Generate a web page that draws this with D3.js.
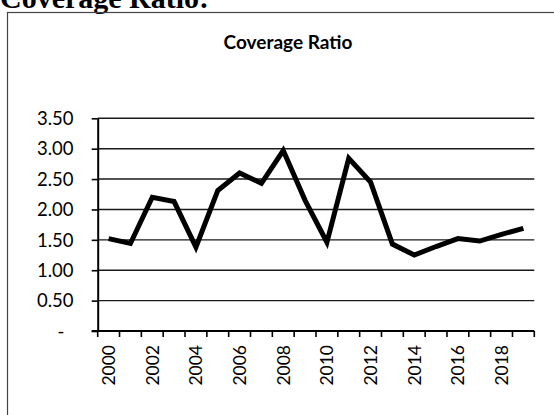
<!DOCTYPE html>
<html>
<head>
<meta charset="utf-8">
<script src="https://cdn.jsdelivr.net/npm/d3@7"></script>
<style>
  html, body { margin: 0; padding: 0; background: #fff; overflow: hidden; }
  svg { display: block; }
</style>
</head>
<body>
<svg id="chart" width="554" height="415"></svg>
<script>
// Coverage ratio by year
const years = [2000, 2001, 2002, 2003, 2004, 2005, 2006, 2007, 2008, 2009,
               2010, 2011, 2012, 2013, 2014, 2015, 2016, 2017, 2018, 2019];
const coverageRatio = [1.52, 1.44, 2.20, 2.13, 1.38, 2.31, 2.60, 2.43, 2.97, 2.15,
                       1.46, 2.84, 2.45, 1.43, 1.25, 1.39, 1.52, 1.48, 1.59, 1.69];
const yTicks = [0, 0.5, 1.0, 1.5, 2.0, 2.5, 3.0, 3.5];
const yTickLabels = ["-", "0.50", "1.00", "1.50", "2.00", "2.50", "3.00", "3.50"];
const xLabelYears = [2000, 2002, 2004, 2006, 2008, 2010, 2012, 2014, 2016, 2018];

const svg = d3.select("#chart");
const sans = "Lato, 'Open Sans', sans-serif";

// Heading above the chart box (its upper part runs past the top edge)
svg.append("text")
  .attr("x", 0).attr("y", 8)
  .attr("font-family", "'Liberation Serif', 'Times New Roman', serif")
  .attr("font-weight", "bold")
  .attr("font-size", 30)
  .attr("fill", "#000")
  .text("Coverage Ratio:");

// Chart box border
svg.append("rect")
  .attr("x", 7.5).attr("y", 12.5)
  .attr("width", 600).attr("height", 500)
  .attr("fill", "none")
  .attr("stroke", "#444").attr("stroke-width", 1.2);

// Chart title
svg.append("text")
  .attr("x", 288).attr("y", 49)
  .attr("text-anchor", "middle")
  .attr("font-family", sans)
  .attr("font-weight", "bold")
  .attr("font-size", 19)
  .attr("fill", "#000")
  .text("Coverage Ratio");

const plotLeft = 97.7, plotRight = 534.3, plotTop = 118.3, plotBottom = 331;

const x = d3.scaleBand().domain(years).range([plotLeft, plotRight]).padding(0);
const y = d3.scaleLinear().domain([0, 3.5]).range([plotBottom, plotTop]);

// Horizontal gridlines
svg.append("g")
  .selectAll("line")
  .data(yTicks.filter(d => d > 0))
  .join("line")
  .attr("x1", plotLeft).attr("x2", plotRight)
  .attr("y1", d => y(d)).attr("y2", d => y(d))
  .attr("stroke", "#1a1a1a").attr("stroke-width", 1.4);

// Y axis
const yAxis = svg.append("g")
  .attr("transform", `translate(${plotLeft},0)`)
  .call(d3.axisLeft(y).tickValues(yTicks).tickSize(6).tickSizeOuter(0).tickFormat(""));
yAxis.select(".domain").attr("stroke", "#000").attr("stroke-width", 2);
yAxis.selectAll(".tick line").attr("stroke", "#000").attr("stroke-width", 1.6);

// Y tick labels
svg.append("g")
  .selectAll("text")
  .data(yTicks)
  .join("text")
  .attr("x", (d, i) => yTickLabels[i] === "-" ? 61 : 73.5)
  .attr("y", d => y(d))
  .attr("dy", "0.36em")
  .attr("text-anchor", (d, i) => yTickLabels[i] === "-" ? "middle" : "end")
  .attr("font-family", sans)
  .attr("font-size", 18.5)
  .attr("fill", "#000")
  .text((d, i) => yTickLabels[i]);

// X axis with tick marks on category boundaries
const boundaries = years.map(yr => x(yr)).concat([plotRight]);
const xAxisG = svg.append("g");
xAxisG.append("line")
  .attr("x1", plotLeft - 6).attr("x2", plotRight)
  .attr("y1", plotBottom).attr("y2", plotBottom)
  .attr("stroke", "#000").attr("stroke-width", 1.8);
xAxisG.selectAll("line.tick")
  .data(boundaries)
  .join("line")
  .attr("class", "tick")
  .attr("x1", d => d).attr("x2", d => d)
  .attr("y1", plotBottom).attr("y2", plotBottom + 6)
  .attr("stroke", "#000").attr("stroke-width", 1.6);

// X labels, rotated
svg.append("g")
  .selectAll("text")
  .data(xLabelYears)
  .join("text")
  .attr("transform", d => `translate(${x(d) + x.bandwidth() / 2},345) rotate(-90)`)
  .attr("text-anchor", "end")
  .attr("dy", "0.36em")
  .attr("font-family", sans)
  .attr("font-size", 17.5)
  .attr("fill", "#000")
  .text(d => d);

// Data line
const line = d3.line()
  .x((d, i) => x(years[i]) + x.bandwidth() / 2)
  .y(d => y(d));
svg.append("path")
  .datum(coverageRatio)
  .attr("d", line)
  .attr("fill", "none")
  .attr("stroke", "#000")
  .attr("stroke-width", 5)
  .attr("stroke-linejoin", "miter")
  .attr("stroke-linecap", "butt");
</script>
</body>
</html>
